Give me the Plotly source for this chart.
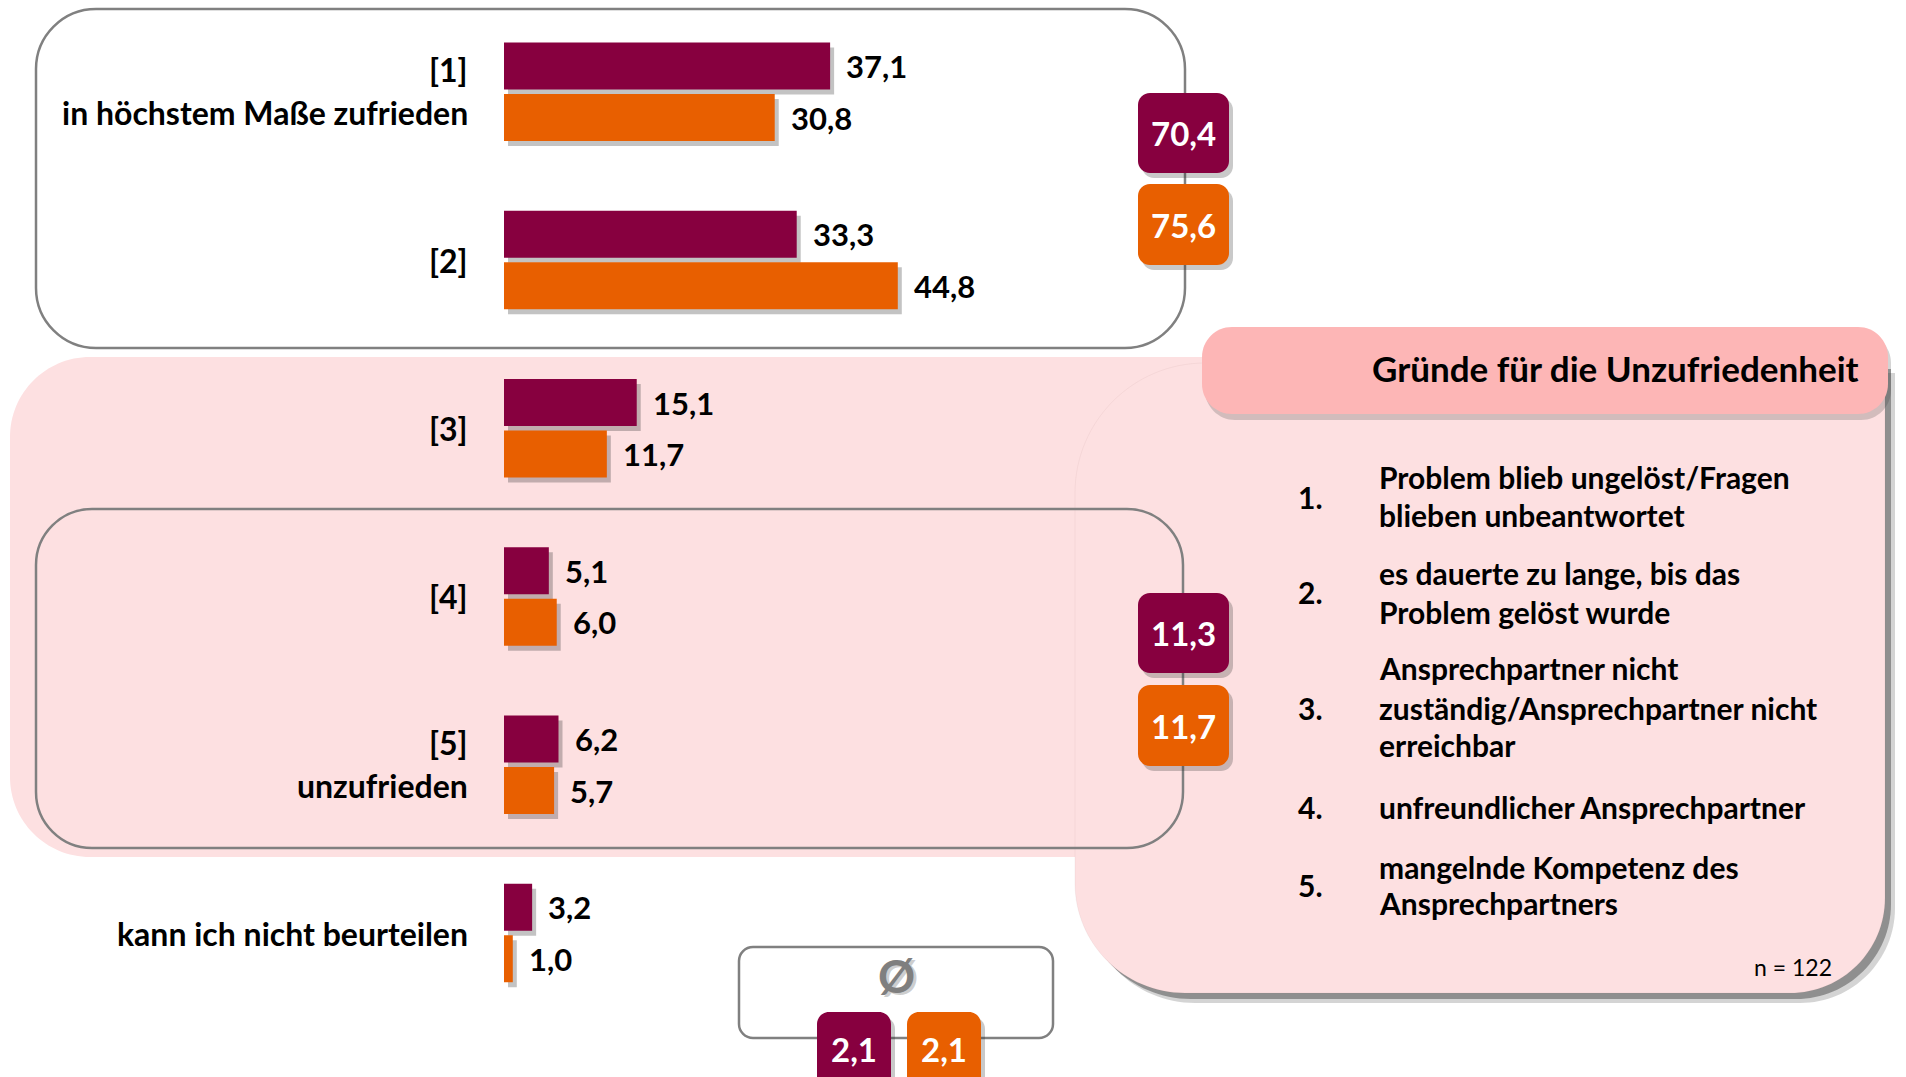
import plotly.graph_objects as go

# ---------------------------------------------------------------------------
# Daten
# ---------------------------------------------------------------------------
kategorien = ["[1]", "[2]", "[3]", "[4]", "[5]", "kann ich nicht beurteilen"]
werte_lila = [37.1, 33.3, 15.1, 5.1, 6.2, 3.2]
werte_orange = [30.8, 44.8, 11.7, 6.0, 5.7, 1.0]

# Beschriftungen links der Balken (obere / untere Zeile)
beschriftung_oben = ["[1]", "[2]", "[3]", "[4]", "[5]", "kann ich nicht beurteilen"]
beschriftung_unten = ["in höchstem Maße zufrieden", "", "", "", "unzufrieden", ""]

titel_gruende = "Gründe für die Unzufriedenheit"
gruende = [
    ["Problem blieb ungelöst/Fragen", "blieben unbeantwortet"],
    ["es dauerte zu lange, bis das", "Problem gelöst wurde"],
    ["Ansprechpartner nicht", "zuständig/Ansprechpartner nicht", "erreichbar"],
    ["unfreundlicher Ansprechpartner"],
    ["mangelnde Kompetenz des", "Ansprechpartners"],
]
stichprobe = "n = 122"
symbol_mittelwert = "Ø"

# ---------------------------------------------------------------------------
# Abgeleitete Kennzahlen
# ---------------------------------------------------------------------------
def de(v):
    return f"{v:.1f}".replace(".", ",")

top2_lila = werte_lila[0] + werte_lila[1]
top2_orange = werte_orange[0] + werte_orange[1]
bottom2_lila = werte_lila[3] + werte_lila[4]
bottom2_orange = werte_orange[3] + werte_orange[4]


def mittelwert(werte):
    noten = werte[:5]
    return sum((i + 1) * w for i, w in enumerate(noten)) / sum(noten)


mw_lila = mittelwert(werte_lila)
mw_orange = mittelwert(werte_orange)

# ---------------------------------------------------------------------------
# Gestaltung
# ---------------------------------------------------------------------------
W, H = 1906, 1077
LILA = "#87003F"
ORANGE = "#E85F00"
ROSA = "#FDE0E1"
ROSA_KOPF = "#FDB6B6"
GRAU = "#808080"
SCHATTEN = "rgba(40,40,40,0.28)"
FONT = "Lato"

X0_PX = 504          # Pixelposition des Nullpunkts
PX_PRO_EINHEIT = 8.79
KAT0_PX = 91.75      # Mitte der ersten Gruppe
KAT_SCHRITT = 168.25
DX, DY = 4, 5        # Versatz des Balkenschattens


def x_bereich(versatz=0):
    return [-(X0_PX + versatz) / PX_PRO_EINHEIT, (W - X0_PX - versatz) / PX_PRO_EINHEIT]


def y_bereich(versatz=0):
    return [(H - KAT0_PX - versatz) / KAT_SCHRITT, (-KAT0_PX - versatz) / KAT_SCHRITT]


def P(x, y):
    return f"{x / W:.5f},{1 - y / H:.5f}"


def rrect(x0, y0, x1, y1, r):
    tl, tr, br, bl = r if isinstance(r, (tuple, list)) else (r, r, r, r)
    k = 0.4477
    d = f"M{P(x0 + tl, y0)} L{P(x1 - tr, y0)} "
    if tr:
        d += f"C{P(x1 - tr * k, y0)} {P(x1, y0 + tr * k)} {P(x1, y0 + tr)} "
    d += f"L{P(x1, y1 - br)} "
    if br:
        d += f"C{P(x1, y1 - br * k)} {P(x1 - br * k, y1)} {P(x1 - br, y1)} "
    d += f"L{P(x0 + bl, y1)} "
    if bl:
        d += f"C{P(x0 + bl * k, y1)} {P(x0, y1 - bl * k)} {P(x0, y1 - bl)} "
    d += f"L{P(x0, y0 + tl)} "
    if tl:
        d += f"C{P(x0, y0 + tl * k)} {P(x0 + tl * k, y0)} {P(x0 + tl, y0)} "
    return d + "Z"


shapes = []


def flaeche(x0, y0, x1, y1, r, fill, line=None, width=0):
    shapes.append(dict(
        type="path", xref="paper", yref="paper", layer="below",
        path=rrect(x0, y0, x1, y1, r), fillcolor=fill,
        line=dict(color=line or "rgba(0,0,0,0)", width=width),
    ))


# Rosa Bereich für Werte 3-5
flaeche(10, 357, 1215, 857, (80, 0, 0, 80), ROSA)

# Seitenleiste mit Gründen (Schatten, Körper, Kopf)
flaeche(1085, 373, 1895, 1003, (130, 0, 95, 110), "rgba(60,60,60,0.22)")
flaeche(1081, 369, 1891, 999, (130, 0, 95, 110), "rgba(60,60,60,0.45)")
flaeche(1075, 363, 1885, 993, (130, 0, 95, 110), ROSA, "rgba(150,100,100,0.08)", 1)
flaeche(1205, 333, 1891, 420, 30, "rgba(60,60,60,0.22)")
flaeche(1202, 327, 1888, 414, 30, ROSA_KOPF)

# Rahmen um Top-2 und Bottom-2
flaeche(36, 9, 1185, 348, 60, "rgba(0,0,0,0)", GRAU, 2.5)
flaeche(36, 509, 1183, 848, 56, "rgba(0,0,0,0)", GRAU, 2.5)

# Rahmen Mittelwert
flaeche(739, 947, 1053, 1038, 14, "rgba(0,0,0,0)", GRAU, 2.5)


annotations = []


def text(x, y, t, size, color="black", bold=True, xanchor="center", yanchor="middle", family=FONT):
    annotations.append(dict(
        xref="paper", yref="paper", x=x / W, y=1 - y / H, text=t, showarrow=False,
        xanchor=xanchor, yanchor=yanchor,
        font=dict(family=family, size=size, color=color, weight="bold" if bold else "normal"),
    ))


def kennzahl(x0, y0, x1, y1, wert, farbe):
    flaeche(x0 + 4, y0 + 5, x1 + 4, y1 + 5, 12, "rgba(40,40,40,0.25)")
    flaeche(x0, y0, x1, y1, 12, farbe)
    text((x0 + x1) / 2, (y0 + min(y1, 1083)) / 2, de(wert), 33, "white")


kennzahl(1138, 93, 1229, 173, top2_lila, LILA)
kennzahl(1138, 184, 1229, 265, top2_orange, ORANGE)
kennzahl(1138, 593, 1229, 673, bottom2_lila, LILA)
kennzahl(1138, 685, 1229, 766, bottom2_orange, ORANGE)

# Mittelwert
text(899, 978, symbol_mittelwert, 46, "rgba(60,60,60,0.25)")
text(896, 975, symbol_mittelwert, 46, "#7F7F7F")
flaeche(821, 1017, 895, 1095, 12, "rgba(40,40,40,0.25)")
flaeche(817, 1012, 891, 1090, 12, LILA)
text(854, 1049, de(mw_lila), 33, "white")
flaeche(911, 1017, 985, 1095, 12, "rgba(40,40,40,0.25)")
flaeche(907, 1012, 981, 1090, 12, ORANGE)
text(944, 1049, de(mw_orange), 33, "white")

# Seitenleiste: Überschrift, Gründe, Stichprobe
text(1861, 368, titel_gruende, 35, xanchor="right")
zeilen_y = [[477, 515], [573, 612], [668, 708, 745], [807], [867, 903]]
nummer_y = [497, 592, 708, 807, 885]
for i, (zeilen, ys) in enumerate(zip(gruende, zeilen_y)):
    text(1296, nummer_y[i], f"{i + 1}.", 30, xanchor="left")
    for z, yy in zip(zeilen, ys):
        text(1377, yy, z, 30, xanchor="left")
text(1834, 967, stichprobe, 23, bold=False, xanchor="right")

# Kategorienbeschriftung und Balkenwerte
for i, kat in enumerate(kategorien):
    oben, unten = beschriftung_oben[i], beschriftung_unten[i]
    zeilen = [(oben, 22), (unten, -21)] if unten else [(oben, 0)]
    for t, ys in zeilen:
        annotations.append(dict(
            xref="x2", yref="y2", x=0, y=kat, text=t, showarrow=False,
            xanchor="right", yanchor="middle", xshift=-34, yshift=ys,
            font=dict(family=FONT, size=32, color="black", weight="bold"),
        ))
    for werte, ys in ((werte_lila, 25.75), (werte_orange, -25.75)):
        annotations.append(dict(
            xref="x2", yref="y2", x=werte[i], y=kat, text=de(werte[i]), showarrow=False,
            xanchor="left", yanchor="middle", xshift=14, yshift=ys,
            font=dict(family=FONT, size=31, color="black", weight="bold"),
        ))

# ---------------------------------------------------------------------------
# Balken (Schatten auf x/y, eigentliche Balken auf x2/y2)
# ---------------------------------------------------------------------------
fig = go.Figure()
for werte in (werte_lila, werte_orange):
    fig.add_trace(go.Bar(
        orientation="h", y=kategorien, x=werte, xaxis="x", yaxis="y",
        marker=dict(color=SCHATTEN, line=dict(width=0)), hoverinfo="skip",
    ))
for werte, farbe in ((werte_lila, LILA), (werte_orange, ORANGE)):
    fig.add_trace(go.Bar(
        orientation="h", y=kategorien, x=werte, xaxis="x2", yaxis="y2",
        marker=dict(color=farbe, line=dict(width=0)),
    ))

achse = dict(visible=False, showgrid=False, zeroline=False, fixedrange=True)
fig.update_layout(
    width=W, height=H,
    margin=dict(l=0, r=0, t=0, b=0),
    paper_bgcolor="white", plot_bgcolor="rgba(0,0,0,0)",
    showlegend=False,
    barmode="group", bargap=0.388, bargroupgap=0.087,
    xaxis=dict(achse, range=x_bereich(DX), domain=[0, 1]),
    yaxis=dict(achse, type="category", categoryarray=kategorien, range=y_bereich(DY), domain=[0, 1]),
    xaxis2=dict(achse, range=x_bereich(), overlaying="x", domain=[0, 1]),
    yaxis2=dict(achse, type="category", categoryarray=kategorien, range=y_bereich(), overlaying="y", domain=[0, 1]),
    shapes=shapes,
    annotations=annotations,
    font=dict(family=FONT),
)

fig.write_html("out.html")
